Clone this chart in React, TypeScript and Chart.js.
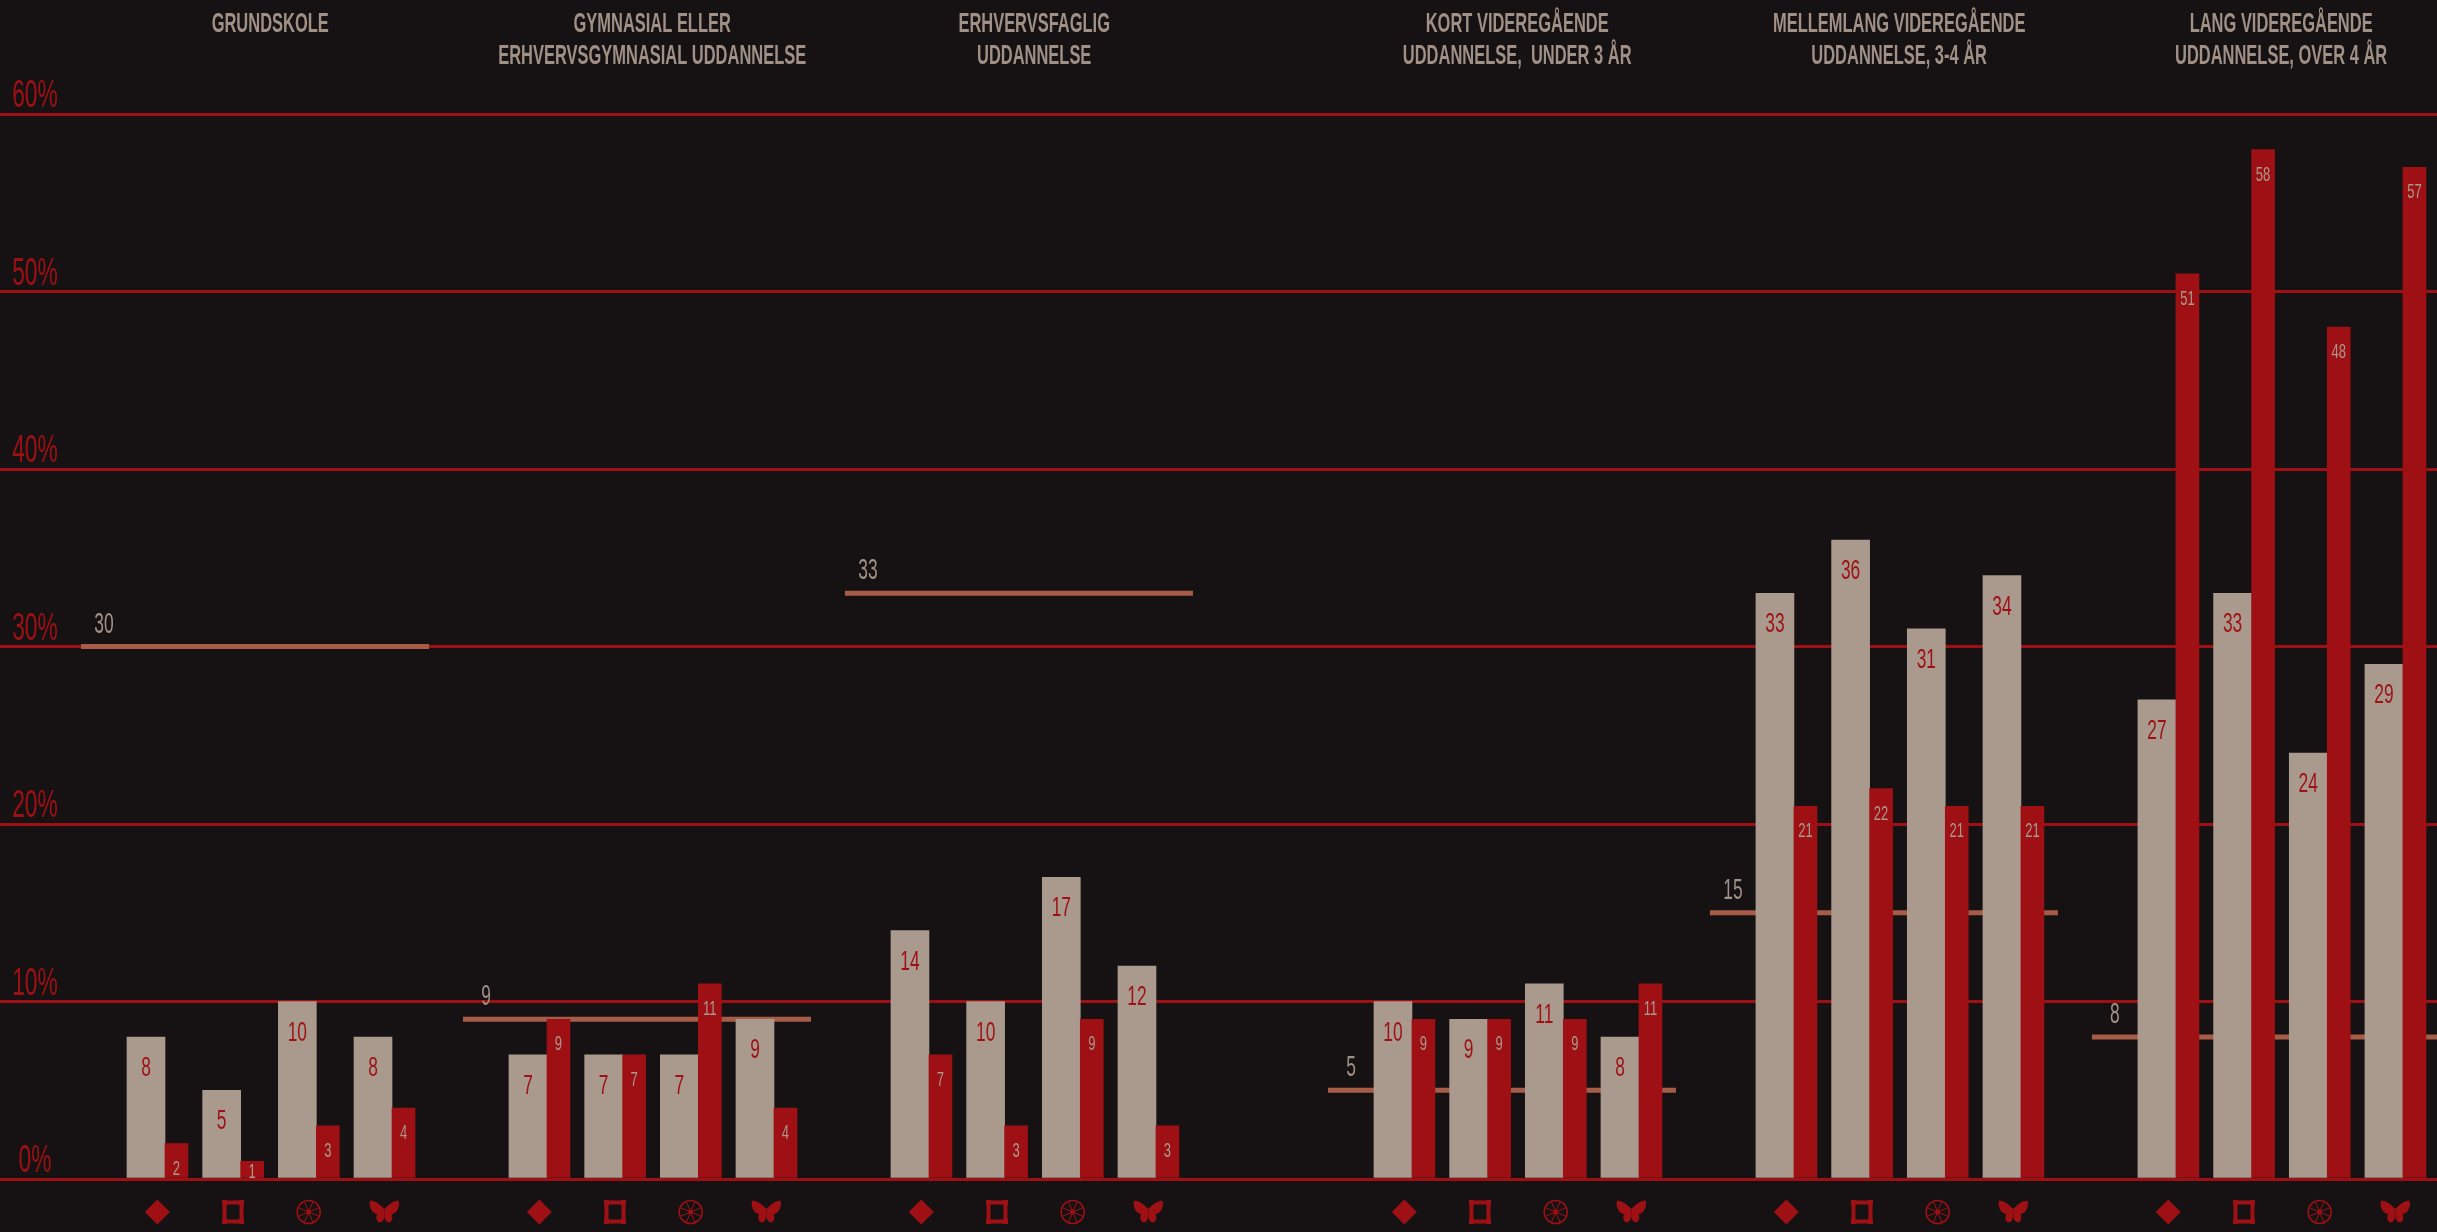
import React, { useEffect, useRef } from "react";
import { Chart, registerables } from "chart.js";

Chart.register(...registerables);

// Education levels, one header (possibly on two lines) per group of four bars.
const educationLevels = [
  ["GRUNDSKOLE"],
  ["GYMNASIAL ELLER", "ERHVERVSGYMNASIAL UDDANNELSE"],
  ["ERHVERVSFAGLIG", "UDDANNELSE"],
  ["KORT VIDEREGÅENDE", "UDDANNELSE,  UNDER 3 ÅR"],
  ["MELLEMLANG VIDEREGÅENDE", "UDDANNELSE, 3-4 ÅR"],
  ["LANG VIDEREGÅENDE", "UDDANNELSE, OVER 4 ÅR"],
];

// Shares in percent, four values per education level.
const beigeShares = [8, 5, 10, 8, 7, 7, 7, 9, 14, 10, 17, 12, 10, 9, 11, 8, 33, 36, 31, 34, 27, 33, 24, 29];
const redShares = [2, 1, 3, 4, 9, 7, 11, 4, 7, 3, 9, 3, 9, 9, 9, 11, 21, 22, 21, 21, 51, 58, 48, 57];

// Reference level drawn as a horizontal rule across each group.
const referenceLevels = [30, 9, 33, 5, 15, 8];

const symbols = ["diamond", "frame", "wheel", "butterfly"];

const BG = "#161213";
const BEIGE = "#aa998d";
const TEXT = "#a09086";
const RED = "#9e1014";
const RULE = "#a65c47";
const FONT = '"Liberation Sans"';

// Horizontal layout, expressed in bar slots.
const SLOT_PX = 75.67;
const GROUP_STEP = 5.048;
const MIDDLE_GAP = 1.335;
const RED_OFFSET = 0.403;
const X_MIN = -146 / SLOT_PX;
const X_MAX = (2437 - 146) / SLOT_PX;

const groupStart = (g: number) => g * GROUP_STEP + (g >= 3 ? MIDDLE_GAP : 0);
const slotX = (i: number) => groupStart(Math.floor(i / 4)) + (i % 4);

function condensedText(
  ctx: CanvasRenderingContext2D,
  text: string,
  x: number,
  y: number,
  size: number,
  color: string,
  weight = "normal",
  narrow = 0.6
) {
  ctx.font = `${weight} ${size}px ${FONT}`;
  ctx.fillStyle = color;
  ctx.textAlign = "center";
  ctx.textBaseline = "alphabetic";
  ctx.fillText(text, x, y, ctx.measureText(text).width * narrow);
}

function drawSymbol(ctx: CanvasRenderingContext2D, name: string, x: number, y: number) {
  ctx.save();
  ctx.translate(x, y);
  ctx.fillStyle = RED;
  ctx.strokeStyle = RED;
  if (name === "diamond") {
    ctx.beginPath();
    ctx.moveTo(0, -12.5);
    ctx.lineTo(12.5, 0);
    ctx.lineTo(0, 12.5);
    ctx.lineTo(-12.5, 0);
    ctx.closePath();
    ctx.fill();
  } else if (name === "frame") {
    ctx.lineWidth = 4;
    ctx.strokeRect(-8.5, -9.5, 17, 19);
    for (const [cx, cy] of [[-8.5, -9.5], [8.5, -9.5], [-8.5, 9.5], [8.5, 9.5]]) {
      ctx.fillRect(cx - 2.5, cy - 2.5, 5, 5);
    }
  } else if (name === "wheel") {
    ctx.lineWidth = 1.6;
    ctx.beginPath();
    ctx.arc(0, 0, 11.5, 0, Math.PI * 2);
    ctx.stroke();
    ctx.lineWidth = 1;
    for (let k = 0; k < 8; k++) {
      const a = (k * Math.PI) / 4 + Math.PI / 8;
      ctx.beginPath();
      ctx.moveTo(0, 0);
      ctx.lineTo(Math.cos(a) * 11, Math.sin(a) * 11);
      ctx.stroke();
    }
    ctx.beginPath();
    ctx.arc(0, 0, 2.4, 0, Math.PI * 2);
    ctx.fill();
  } else {
    const wing = new Path2D(
      "M0 -3 C3 -6 8 -11 14 -11.5 C15.5 -9 14.5 -3 11.5 0 C9.5 1.5 8 2 7 2 C8.5 4 8.5 8 6 10 C3.5 11.5 1 9 0 5 Z"
    );
    ctx.fill(wing);
    ctx.scale(-1, 1);
    ctx.fill(wing);
  }
  ctx.restore();
}

const annotations = {
  id: "annotations",
  beforeDraw(chart: any) {
    const { ctx, width, height } = chart;
    ctx.save();
    ctx.fillStyle = BG;
    ctx.fillRect(0, 0, width, height);
    ctx.restore();
  },
  afterDraw(chart: any) {
    const { ctx, scales, chartArea } = chart;
    const { x, y } = scales;
    ctx.save();

    // Percent labels sit just above their gridlines.
    y.ticks.forEach((tick: any, i: number) => {
      condensedText(ctx, `${tick.value}%`, 35, y.getPixelForTick(i) - 7, 38, RED);
    });

    // Group headers, centred over the four bars.
    educationLevels.forEach((lines, g) => {
      const cx = x.getPixelForValue(groupStart(g) + 1.5 + RED_OFFSET / 2 - 0.06);
      lines.forEach((line, l) => condensedText(ctx, line, cx, 32 + l * 32, 28, TEXT, "bold", 0.588));
    });

    // Values inside the bars.
    const beigeMeta = chart.getDatasetMeta(0);
    const redMeta = chart.getDatasetMeta(1);
    beigeMeta.data.forEach((bar: any, i: number) => {
      condensedText(ctx, String(beigeShares[i]), bar.x, bar.y + 39, 28, RED, "normal", 0.62);
    });
    redMeta.data.forEach((bar: any, i: number) => {
      condensedText(ctx, String(redShares[i]), bar.x, Math.min(bar.y + 31, chartArea.bottom - 1), 21, BEIGE, "normal", 0.62);
    });

    // Values of the reference rules.
    referenceLevels.forEach((level, g) => {
      const px = x.getPixelForValue(groupStart(g) - 0.859) + 23;
      condensedText(ctx, String(level), px, y.getPixelForValue(level) - 14, 29, TEXT);
    });

    // Row of symbols under the baseline.
    beigeShares.forEach((_, i) => {
      drawSymbol(ctx, symbols[i % 4], x.getPixelForValue(slotX(i) + 0.15), chartArea.bottom + 33);
    });

    ctx.restore();
  },
};

export default function App() {
  const ref = useRef<HTMLCanvasElement>(null);

  useEffect(() => {
    const chart = new Chart(ref.current as HTMLCanvasElement, {
      type: "bar",
      data: {
        datasets: [
          {
            data: beigeShares.map((v, i) => ({ x: slotX(i), y: v })),
            backgroundColor: BEIGE,
            barThickness: 38,
            grouped: false,
            order: 2,
          },
          {
            data: redShares.map((v, i) => ({ x: slotX(i) + RED_OFFSET, y: v })),
            backgroundColor: RED,
            barThickness: 23,
            grouped: false,
            order: 1,
          },
          ...referenceLevels.map((level, g) => ({
            type: "line" as const,
            data: [
              { x: groupStart(g) - 0.859, y: level },
              { x: groupStart(g) + 3.74, y: level },
            ],
            borderColor: RULE,
            borderWidth: 5,
            pointRadius: 0,
            order: 3,
          })),
        ],
      },
      options: {
        responsive: false,
        animation: false,
        layout: { padding: { top: 114, bottom: 53, left: 0, right: 0 } },
        plugins: { legend: { display: false }, tooltip: { enabled: false } },
        scales: {
          x: { type: "linear", min: X_MIN, max: X_MAX, offset: false, display: false },
          y: {
            min: 0,
            max: 60,
            afterFit: (s: any) => {
              s.width = 0;
            },
            border: { display: false },
            grid: { color: RED, lineWidth: 3, drawTicks: false },
            ticks: { stepSize: 10, display: false },
          },
        },
      },
      plugins: [annotations],
    } as any);
    return () => chart.destroy();
  }, []);

  return (
    <div style={{ position: "absolute", left: 0, top: 0, width: 2437, height: 1232, overflow: "hidden", background: BG }}>
      <canvas ref={ref} width={2437} height={1232} style={{ display: "block" }} />
    </div>
  );
}
